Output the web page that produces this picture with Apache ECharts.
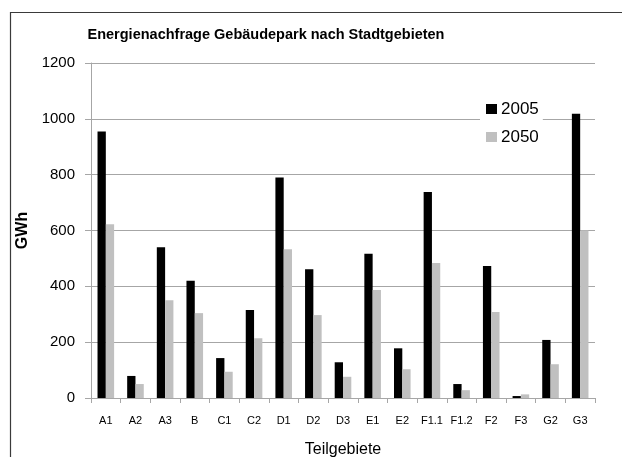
<!DOCTYPE html>
<html>
<head>
<meta charset="utf-8">
<script src="https://cdn.jsdelivr.net/npm/echarts@6/dist/echarts.min.js"></script>
<style>html,body{margin:0;padding:0;background:#fff}#c{width:622px;height:457px}</style>
</head>
<body>
<div id="c"></div>
<script>
const categories = ['A1','A2','A3','B','C1','C2','D1','D2','D3','E1','E2','F1.1','F1.2','F2','F3','G2','G3'];
const values2005 = [955, 79, 540, 420, 143, 315, 790, 461, 128, 517, 178, 738, 50, 473, 7, 208, 1018];
const values2050 = [622, 50, 350, 304, 94, 214, 533, 297, 76, 387, 103, 484, 28, 308, 13, 121, 600];
const yTicks = [0, 200, 400, 600, 800, 1000, 1200];
const titleText = 'Energienachfrage Gebäudepark nach Stadtgebieten';

const FONT = '"Liberation Sans", Arial, sans-serif';
const chart = echarts.init(document.getElementById('c'), null, {renderer: 'canvas'});
chart.setOption({
  animation: false,
  backgroundColor: '#fff',
  textStyle: {fontFamily: FONT},
  graphic: [
    {type: 'rect', z: 0, shape: {x: 10.5, y: 12.5, width: 700, height: 500},
     style: {fill: 'none', stroke: '#3a3a3a', lineWidth: 1.2}},
    {type: 'text', z: 10, style: {x: 266, y: 35, text: titleText, fill: '#000',
      font: 'bold 14.5px ' + FONT, textAlign: 'center', textVerticalAlign: 'middle',
      align: 'center', verticalAlign: 'middle'}}
  ],
  grid: {left: 91, right: 27, top: 63, bottom: 59, containLabel: false, outerBoundsMode: 'none'},
  legend: {
    orient: 'vertical', left: 480, top: 97,
    data: ['2005', '2050'],
    icon: 'rect', itemWidth: 11, itemHeight: 10, itemGap: 10,
    backgroundColor: '#fff', padding: [3, 4, 3, 6],
    textStyle: {fontSize: 17, color: '#000', fontFamily: FONT, lineHeight: 18, padding: [0, 0, 0, -1]},
  },
  xAxis: {
    type: 'category', data: categories,
    name: 'Teilgebiete', nameLocation: 'middle', nameGap: 44,
    nameTextStyle: {fontSize: 16, color: '#000', fontFamily: FONT},
    axisLine: {lineStyle: {color: '#a6a6a6', width: 1}},
    axisTick: {show: true, interval: 0, length: 5, lineStyle: {color: '#a6a6a6'}},
    axisLabel: {interval: 0, fontSize: 11, color: '#000', margin: 17, fontFamily: FONT},
    splitLine: {show: false}
  },
  yAxis: {
    type: 'value', min: yTicks[0], max: yTicks[yTicks.length - 1], interval: yTicks[1] - yTicks[0],
    name: 'GWh', nameLocation: 'middle', nameGap: 52, nameRotate: 90,
    nameTextStyle: {fontSize: 16, fontWeight: 'bold', color: '#000', fontFamily: FONT},
    axisLine: {show: true, lineStyle: {color: '#a6a6a6', width: 1}},
    axisTick: {show: true, length: 6, lineStyle: {color: '#a6a6a6'}},
    axisLabel: {fontSize: 15, color: '#000', margin: 16, fontFamily: FONT,
      formatter: function (v) { return String(v); }},
    splitLine: {show: true, lineStyle: {color: '#a6a6a6', width: 1}}
  },
  series: [
    {name: '2005', type: 'bar', data: values2005, itemStyle: {color: '#000000'},
     barGap: '0%', barCategoryGap: '44%'},
    {name: '2050', type: 'bar', data: values2050, itemStyle: {color: '#c0c0c0'},
     barGap: '0%', barCategoryGap: '44%'}
  ]
});
</script>
</body>
</html>
